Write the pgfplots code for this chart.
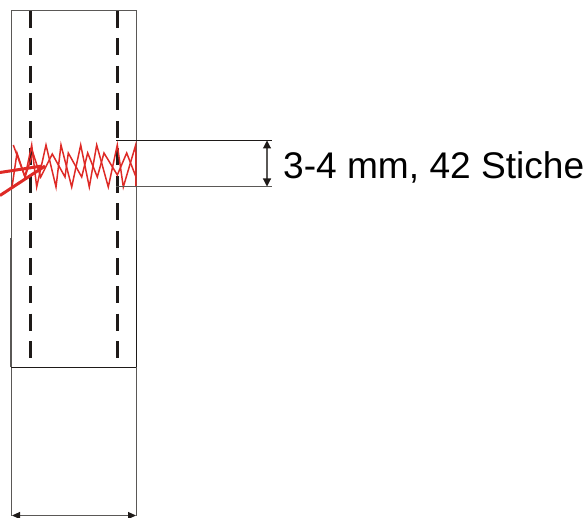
\documentclass[border=0pt]{standalone}
\usepackage{fontspec}
\setmainfont{Liberation Sans}
\usepackage{pgfplots}
\pgfplotsset{compat=1.18}
\usetikzlibrary{arrows.meta}
\definecolor{naht}{RGB}{222,42,38}
\definecolor{strich}{RGB}{30,26,24}
\definecolor{rand}{RGB}{90,88,86}

% coordinates are the picture's pixels, y runs downward
\pgfplotstableread{
x y
13.3 145
25 177
31.7 145
36.7 187
46 145
56 187
61 145
71.7 187
80.7 145
89.3 187
96.7 145
108.3 187
117.3 145
123.3 187
135.7 145
136 187
}\zickzackA
\pgfplotstableread{
x y
12 187
17 153
25 177
33 153
40.7 177
52.3 154
65 177
68.3 153
81.7 177
87.7 153
97.3 177
104 153
117.3 175
126.7 153
136 177
}\zickzackB

\begin{document}
\begin{tikzpicture}
\begin{axis}[
    scale only axis,
    width=588pt,
    height=518pt,
    xmin=0, xmax=588,
    ymin=0, ymax=518,
    y dir=reverse,
    ticks=none,
    axis line style={draw=none},
    clip mode=individual
]
% outline
\addplot[rand, line width=1pt, no marks] coordinates {(11,11) (136.5,11)};
\addplot[rand, line width=1pt, no marks] coordinates {(11,11) (11,516)};
\addplot[rand, line width=1pt, no marks] coordinates {(136.3,11) (136.3,516)};
\addplot[rand, line width=1.3pt, no marks] coordinates {(11,238) (11,367)};
\addplot[strich, line width=0.9pt, no marks] coordinates {(136.3,240) (136.3,367)};
\addplot[strich, line width=1.1pt, no marks] coordinates {(11,367.3) (136.3,367.3)};
% stitching lines
\addplot[strich, line width=3.2pt, no marks, dash pattern=on 17pt off 10.5pt] coordinates {(30.8,11) (30.8,358)};
\addplot[strich, line width=3.2pt, no marks, dash pattern=on 17pt off 10.5pt] coordinates {(117.3,11) (117.3,358)};
% zigzag seam
\addplot[naht, line width=1.5pt, no marks] table {\zickzackA};
\addplot[naht, line width=1.5pt, no marks] table {\zickzackB};
\addplot[naht, line width=3pt, no marks] coordinates {(0,172.5) (42,166)};
\addplot[naht, line width=3pt, no marks] coordinates {(0,195.5) (45,166)};
% dimension lines
\addplot[strich, line width=0.9pt, no marks] coordinates {(116,140.3) (272,140.3)};
\addplot[rand, line width=1pt, no marks] coordinates {(116,187) (272,187)};
\addplot[rand, line width=1.1pt, no marks, {Triangle[length=8pt,width=8pt,color=strich]}-{Triangle[length=8pt,width=8pt,color=strich]}] coordinates {(267,140.5) (267,186.5)};
\addplot[rand, line width=1.1pt, no marks, {Triangle[length=8pt,width=7pt,color=strich]}-{Triangle[length=8pt,width=7pt,color=strich]}] coordinates {(12,515.5) (136,515.5)};
\node[anchor=west, inner sep=0pt, font=\fontsize{37.1}{40}\selectfont, text=black] at (axis cs:283,167) {3-4 mm, 42 Stiche};
\end{axis}
\end{tikzpicture}
\end{document}
